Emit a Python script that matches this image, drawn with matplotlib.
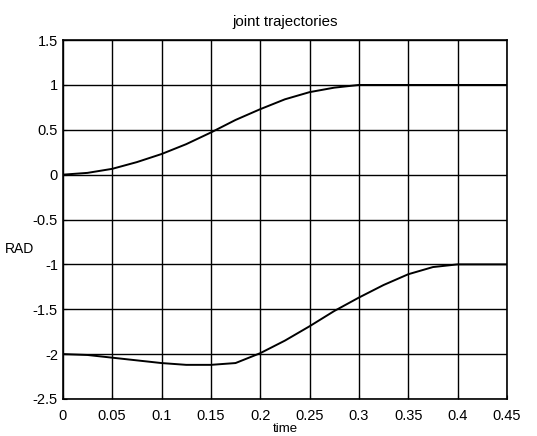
import matplotlib
matplotlib.use("Agg")
import matplotlib.pyplot as plt

# joint trajectories
time = [0, 0.025, 0.05, 0.075, 0.1, 0.125, 0.15, 0.175, 0.2, 0.225, 0.25,
        0.275, 0.3, 0.325, 0.35, 0.375, 0.4, 0.425, 0.45]
joint1 = [0, 0.02, 0.065, 0.14, 0.23, 0.34, 0.47, 0.61, 0.73, 0.84, 0.92,
          0.97, 1.0, 1.0, 1.0, 1.0, 1.0, 1.0, 1.0]
joint2 = [-2.0, -2.01, -2.04, -2.07, -2.10, -2.12, -2.12, -2.10, -1.99, -1.85, -1.69,
          -1.52, -1.37, -1.23, -1.11, -1.03, -1.0, -1.0, -1.0]

xticks = [0, 0.05, 0.1, 0.15, 0.2, 0.25, 0.3, 0.35, 0.4, 0.45]
yticks = [-2.5, -2, -1.5, -1, -0.5, 0, 0.5, 1, 1.5]

plt.rcParams["font.family"] = ["Liberation Sans", "DejaVu Sans"]

fig = plt.figure(figsize=(5.37, 4.36), dpi=100)
ax = fig.add_axes([0.117, 0.085, 0.827, 0.823])

ax.plot(time, joint1, color="black", linewidth=1.4, zorder=3)
ax.plot(time, joint2, color="black", linewidth=1.4, zorder=3)

ax.set_xlim(0, 0.45)
ax.set_ylim(-2.5, 1.5)
ax.set_xticks(xticks)
ax.set_xticklabels([("%g" % v) for v in xticks])
ax.set_yticks(yticks)
ax.set_yticklabels([("%g" % v) for v in yticks])
ax.grid(True, color="black", linewidth=1.0, linestyle="-", zorder=1)
ax.tick_params(direction="in", length=3, labelsize=10.5, colors="black")
ax.tick_params(axis="x", pad=7)
for s in ax.spines.values():
    s.set_linewidth(1.2)

ax.set_title("joint trajectories", fontsize=10.8, pad=10)
ax.set_xlabel("time", fontsize=9.5, labelpad=0)
ax.set_ylabel("RAD", fontsize=10, rotation=0, va="center", ha="center")
ax.yaxis.set_label_coords(-0.097, 0.417)

fig.savefig("out.png", dpi=100)
